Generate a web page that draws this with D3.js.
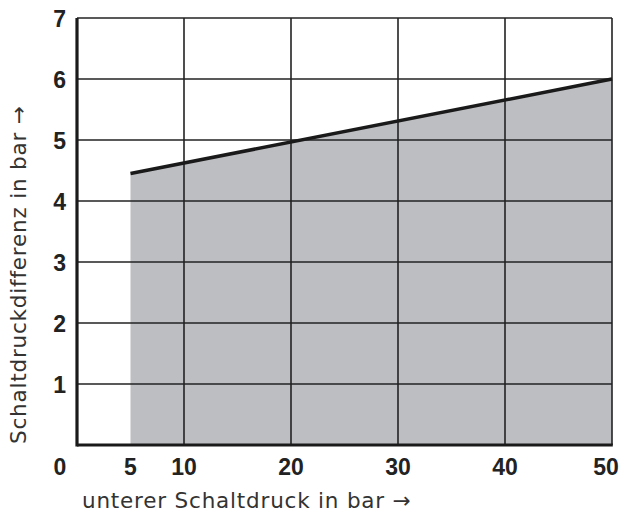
<!DOCTYPE html>
<html>
<head>
<meta charset="utf-8">
<script src="https://cdn.jsdelivr.net/npm/d3@7"></script>
<style>
  body { margin: 0; background: white; }
</style>
</head>
<body>
<script>
const w = 619;
const h = 518;

// data
const xTicks = [0, 5, 10, 20, 30, 40, 50];
const xGrid = [10, 20, 30, 40, 50];
const yTicks = [1, 2, 3, 4, 5, 6, 7];
const lineX = [5, 50];
const lineY = [4.45, 6.0];

const xTitle = "unterer Schaltdruck in bar \u2192";
const yTitle = "Schaltdruckdifferenz in bar \u2192";

const margin = { left: 77, right: 7, top: 18, bottom: 73 };

const svg = d3.select('body')
  .append('svg')
  .attr('width', w)
  .attr('height', h)
  .style("background-color", "white");

const x = d3.scaleLinear().domain([0, 50]).range([margin.left, w - margin.right]);
const y = d3.scaleLinear().domain([0, 7]).range([h - margin.bottom, margin.top]);

const pts = lineX.map((d, i) => [d, lineY[i]]);

// shaded area under the line
const area = d3.area()
  .x(d => x(d[0]))
  .y0(y(0))
  .y1(d => y(d[1]));

svg.append('path')
  .datum(pts)
  .attr('d', area)
  .attr('fill', '#bdbec2');

// grid
svg.append('g')
  .selectAll('line')
  .data(xGrid)
  .enter()
  .append('line')
  .attr('x1', d => x(d)).attr('x2', d => x(d))
  .attr('y1', y(0)).attr('y2', y(7))
  .attr('stroke', '#222')
  .attr('stroke-width', 1.6);

svg.append('g')
  .selectAll('line')
  .data(yTicks)
  .enter()
  .append('line')
  .attr('x1', x(0)).attr('x2', x(50))
  .attr('y1', d => y(d)).attr('y2', d => y(d))
  .attr('stroke', '#222')
  .attr('stroke-width', 1.6);

// the line itself
svg.append('path')
  .datum(pts)
  .attr('d', d3.line().x(d => x(d[0])).y(d => y(d[1])))
  .attr('fill', 'none')
  .attr('stroke', '#1a1a1a')
  .attr('stroke-width', 3.5);

// thick axes
svg.append('line')
  .attr('x1', x(0)).attr('x2', x(0))
  .attr('y1', y(0) + 1.5).attr('y2', y(7))
  .attr('stroke', '#1a1a1a').attr('stroke-width', 3.2);
svg.append('line')
  .attr('x1', x(0)).attr('x2', x(50) + 0.8)
  .attr('y1', y(0)).attr('y2', y(0))
  .attr('stroke', '#1a1a1a').attr('stroke-width', 3.2);

const tickFont = '"Liberation Sans Narrow", "Arial Narrow", sans-serif';

// y tick labels
svg.append('g')
  .selectAll('text')
  .data(yTicks)
  .enter()
  .append('text')
  .attr('x', 66)
  .attr('y', d => y(d) + 1)
  .attr('dy', '0.36em')
  .attr('text-anchor', 'end')
  .style('font-family', tickFont)
  .style('font-weight', 'bold')
  .style('font-size', '23px')
  .style('fill', '#222')
  .text(d => d);

// x tick labels (0 sits under the y labels, 50 kept inside the page)
svg.append('g')
  .selectAll('text')
  .data(xTicks)
  .enter()
  .append('text')
  .attr('x', d => d === 0 ? 60 : (d === 50 ? x(d) - 6 : x(d)))
  .attr('y', 475)
  .attr('text-anchor', 'middle')
  .style('font-family', tickFont)
  .style('font-weight', 'bold')
  .style('font-size', '23px')
  .style('fill', '#222')
  .text(d => d);

// axis titles
const titleFont = '"DejaVu Sans", sans-serif';

svg.append('text')
  .attr('x', 82)
  .attr('y', 508)
  .style('font-family', titleFont)
  .style('font-size', '21.5px')
  .style('letter-spacing', '0.8px')
  .style('fill', '#333')
  .text(xTitle);

svg.append('text')
  .attr('transform', 'translate(26, 444) rotate(-90)')
  .style('font-family', titleFont)
  .style('font-size', '21.5px')
  .style('letter-spacing', '0.8px')
  .style('fill', '#333')
  .text(yTitle);
</script>
</body>
</html>
